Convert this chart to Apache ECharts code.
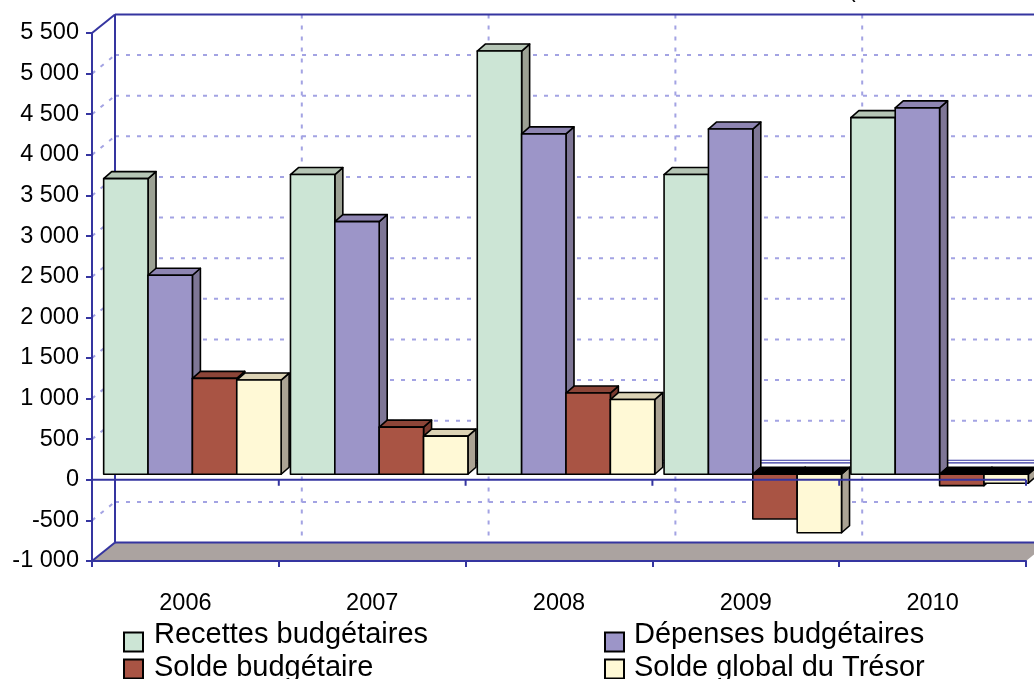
<!DOCTYPE html>
<html><head><meta charset="utf-8">
<script src="https://cdn.jsdelivr.net/npm/echarts@6/dist/echarts.min.js"></script>
<style>html,body{margin:0;padding:0;background:#fff}#c{width:1034px;height:679px}</style>
</head><body><div id="c"></div>
<script>
const categories = ['2006', '2007', '2008', '2009', '2010'];
const recettes = [3640, 3690, 5210, 3690, 4390];
const depenses = [2450, 3110, 4190, 4250, 4510];
const soldeBudgetaire = [1180, 580, 1000, -550, -140];
const soldeGlobal = [1160, 470, 920, -720, -110];
const seriesNames = ['Recettes budgétaires', 'Dépenses budgétaires', 'Solde budgétaire', 'Solde global du Trésor'];
const seriesValues = [recettes, depenses, soldeBudgetaire, soldeGlobal];
const yMin = -1000, yMax = 5500, yStep = 500;

const FRONT = ['#CCE5D5', '#9C95C8', '#A95444', '#FFF9D6'];
const TOP = ['#B5C5B5', '#8E85B2', '#8C4538', '#DCD3B5'];
const SIDE = ['#9CA194', '#7E7696', '#7A3B30', '#ABA394'];
const BLUE = '#3535A0', DASH = '#A3A3E3';
const BACK = [23, -18.5], PLANE = [7, -5.5], DEPTH = [8, -7];
const GROUP = 0.95;
const FONT = 'Liberation Sans';

function fmt(v) {
  const s = Math.abs(v).toString().replace(/\B(?=(\d{3})+(?!\d))/g, ' ');
  return (v < 0 ? '-' : '') + s;
}

function frameGeom(api) {
  const bw = api.size([1, 0])[0];
  const xL = api.coord([0, 0])[0] - bw / 2;
  const xR = xL + bw * categories.length;
  const Y = v => api.coord([0, v])[1];
  return {bw, xL, xR, Y};
}

function frameItem(params, api) {
  const {bw, xL, xR, Y} = frameGeom(api);
  const yT = Y(yMax), yB = Y(yMin), y0 = Y(0);
  const bx = BACK[0], by = BACK[1];
  const ch = [];
  const dash = {stroke: DASH, lineWidth: 2, lineDash: [4, 7]};
  const solid = {stroke: BLUE, lineWidth: 2};
  ch.push({type: 'polygon', shape: {points: [[xL, yB], [xR, yB], [xR + bx, yB + by], [xL + bx, yB + by]]}, style: {fill: '#ABA3A0'}});
  for (let v = yMin + yStep; v < yMax; v += yStep) {
    if (v === 0) continue;
    const y = Y(v);
    ch.push({type: 'line', shape: {x1: xL + bx, y1: y + by, x2: xR + bx, y2: y + by}, style: dash});
    ch.push({type: 'line', shape: {x1: xL, y1: y, x2: xL + bx, y2: y + by}, style: dash});
  }
  for (let k = 1; k <= categories.length; k++) {
    const x = xL + k * bw + bx;
    ch.push({type: 'line', shape: {x1: x, y1: yT + by, x2: x, y2: yB + by}, style: dash});
  }
  ch.push({type: 'line', shape: {x1: xL + bx, y1: y0 + by - 1, x2: xR + bx, y2: y0 + by - 1}, style: {stroke: BLUE, lineWidth: 1.2}});
  ch.push({type: 'line', shape: {x1: xL + bx, y1: y0 + by + 1.6, x2: xR + bx, y2: y0 + by + 1.6}, style: {stroke: BLUE, lineWidth: 1.2}});
  ch.push({type: 'line', shape: {x1: xL + bx, y1: yT + by, x2: xL + bx, y2: yB + by}, style: solid});
  ch.push({type: 'line', shape: {x1: xL + bx, y1: yT + by, x2: xR + bx, y2: yT + by}, style: solid});
  ch.push({type: 'line', shape: {x1: xL + bx, y1: yB + by, x2: xR + bx, y2: yB + by}, style: solid});
  ch.push({type: 'line', shape: {x1: xL, y1: yT, x2: xL + bx, y2: yT + by}, style: solid});
  ch.push({type: 'line', shape: {x1: xL, y1: yB, x2: xL + bx, y2: yB + by}, style: solid});
  return {type: 'group', children: ch};
}

function overlayItem(params, api) {
  const {bw, xL, xR, Y} = frameGeom(api);
  const y0 = Y(0);
  const ch = [{type: 'line', shape: {x1: xL, y1: y0, x2: xR, y2: y0}, style: {stroke: BLUE, lineWidth: 2}}];
  for (let k = 1; k <= categories.length; k++) {
    const x = xL + k * bw;
    ch.push({type: 'line', shape: {x1: x, y1: y0, x2: x, y2: y0 + 6}, style: {stroke: BLUE, lineWidth: 2}});
  }
  return {type: 'group', children: ch};
}

function barItem(si) {
  return function (params, api) {
    const i = api.value(0), v = api.value(1);
    const bw = api.size([1, 0])[0];
    const base = api.coord([i, 0]);
    const w = bw * GROUP / seriesNames.length;
    const x0 = base[0] - bw * GROUP / 2 + si * w + PLANE[0];
    const x1 = x0 + w;
    const yb = base[1] + PLANE[1];
    const yv = api.coord([i, v])[1] + PLANE[1];
    const yt = Math.min(yb, yv), ybot = Math.max(yb, yv);
    const dx = DEPTH[0], dy = DEPTH[1];
    const st = {stroke: '#000', lineWidth: 1.6, lineJoin: 'round'};
    return {type: 'group', children: [
      {type: 'polygon', shape: {points: [[x1, yt], [x1 + dx, yt + dy], [x1 + dx, ybot + dy], [x1, ybot]]}, style: Object.assign({fill: SIDE[si]}, st)},
      {type: 'polygon', shape: {points: [[x0, yt], [x0 + dx, yt + dy], [x1 + dx, yt + dy], [x1, yt]]}, style: Object.assign({fill: v < 0 ? '#000' : TOP[si]}, st)},
      {type: 'rect', shape: {x: x0, y: yt, width: w, height: ybot - yt}, style: Object.assign({fill: FRONT[si]}, st)}
    ]};
  };
}

const chart = echarts.init(document.getElementById('c'), null, {renderer: 'canvas'});

const series = [
  {type: 'custom', name: '_frame', z: -1, silent: true, data: [[0, 0]], encode: {x: 0, y: 1}, renderItem: frameItem, clip: false}
];
seriesNames.forEach((n, si) => {
  series.push({
    type: 'custom', name: n, z: 2, itemStyle: {color: FRONT[si]},
    data: categories.map((c, i) => [i, seriesValues[si][i]]),
    encode: {x: 0, y: 1}, renderItem: barItem(si), clip: false
  });
});
series.push({type: 'custom', name: '_overlay', z: 5, silent: true, data: [[0, 0]], encode: {x: 0, y: 1}, renderItem: overlayItem, clip: false});

const LH = 40;
function makeLegend(name, left, topRef, shift, padLeft) {
  return {
    data: [name], left: left, top: topRef + 9.5 - (LH + 2 * shift) / 2, padding: 0,
    itemWidth: 19, itemHeight: 19, icon: 'rect', selectedMode: false,
    itemStyle: {borderColor: '#000', borderWidth: 2},
    formatter: n => '{t|' + n + '}',
    textStyle: {
      rich: {t: {fontFamily: FONT, fontSize: 29, color: '#000', lineHeight: LH, padding: [0, 0, 2 * shift, padLeft]}}
    }
  };
}

chart.setOption({
  animation: false,
  backgroundColor: '#fff',
  title: {text: '(', left: 848, top: -21, padding: 0, textStyle: {fontFamily: FONT, fontSize: 23, fontWeight: 'normal', color: '#000'}},
  grid: {left: 92, right: 8, top: 33, bottom: 118},
  xAxis: {
    type: 'category', data: categories,
    axisLine: {onZero: false, lineStyle: {color: BLUE, width: 2}},
    axisTick: {show: true, length: 6, lineStyle: {color: BLUE, width: 2}},
    axisLabel: {fontFamily: FONT, fontSize: 23.5, color: '#000', margin: 31},
    splitLine: {show: false}
  },
  yAxis: {
    type: 'value', min: yMin, max: yMax, interval: yStep,
    axisLine: {show: true, lineStyle: {color: BLUE, width: 2}},
    axisTick: {show: true, length: 6, lineStyle: {color: BLUE, width: 2}},
    axisLabel: {fontFamily: FONT, fontSize: 23.5, color: '#000', margin: 13, formatter: fmt},
    splitLine: {show: false}
  },
  legend: [
    makeLegend(seriesNames[0], 123, 638, 7, 6),
    makeLegend(seriesNames[2], 123, 665, 1, 6),
    makeLegend(seriesNames[1], 604, 638, 7, 5),
    makeLegend(seriesNames[3], 604, 665, 1, 5)
  ],
  series: series
});
</script>
</body></html>
